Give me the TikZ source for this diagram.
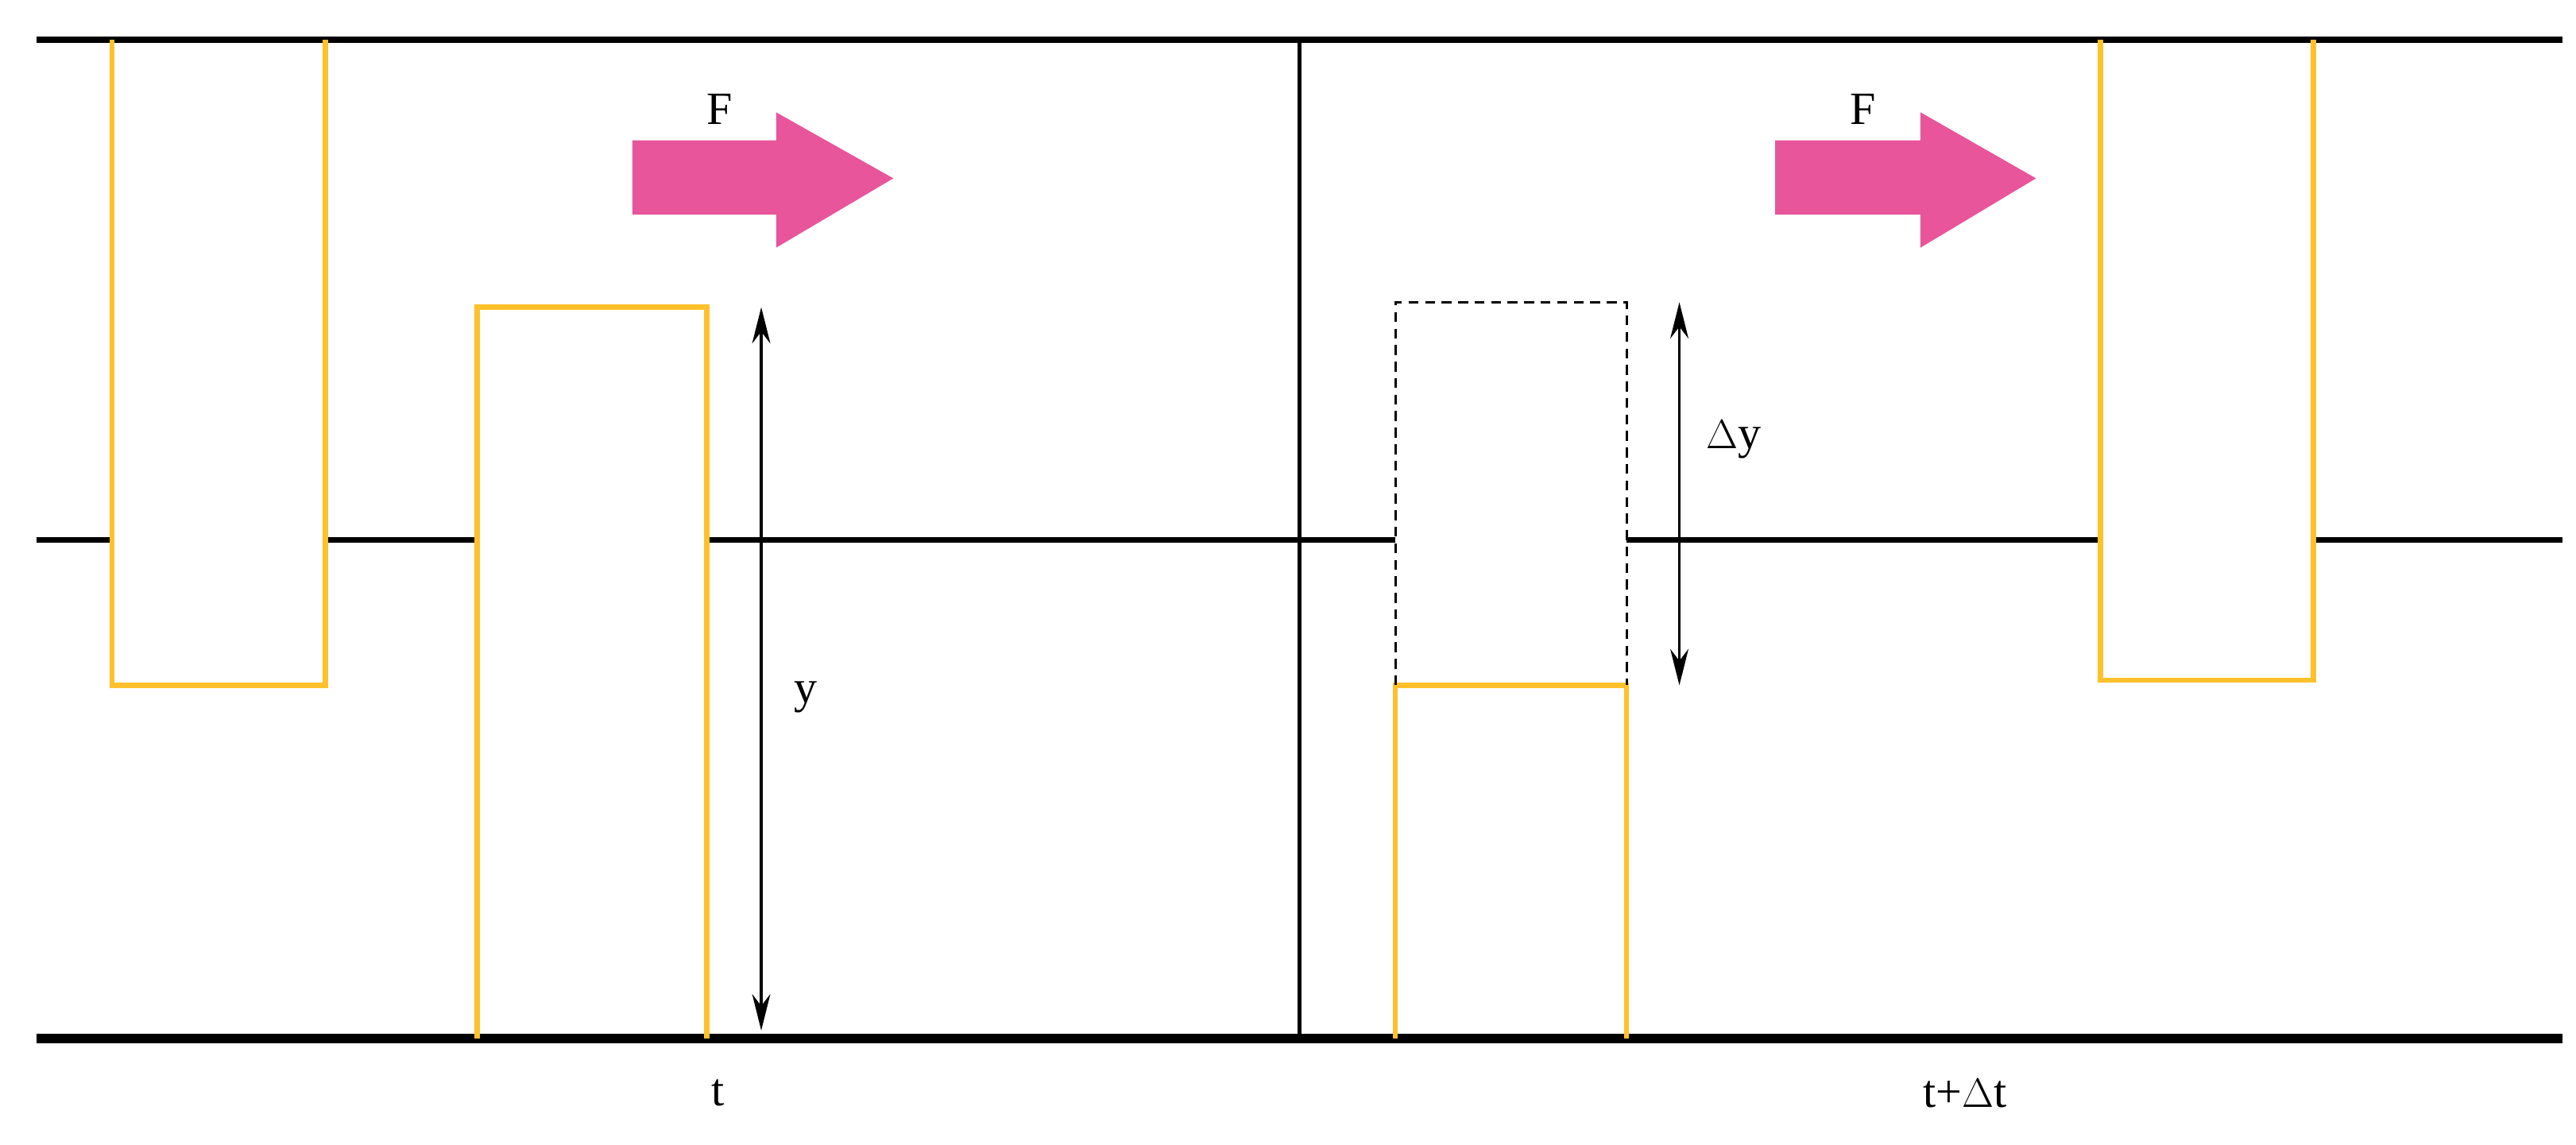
\documentclass[tikz,border=0pt]{standalone}
\usepackage{fontspec}
\setmainfont{Liberation Serif}
\usetikzlibrary{arrows.meta}
\definecolor{gold}{HTML}{FFC12B}
\definecolor{pinkf}{HTML}{E8559A}
\begin{document}
\begin{tikzpicture}[x=1pt,y=-1pt,
  blk/.style={line width=3.5pt,black},
  yel/.style={line width=3pt,gold},
  dim/.style={line width=1.6pt,{Stealth[length=22pt,width=11pt]}-{Stealth[length=22pt,width=11pt]}},
  lab/.style={font=\fontsize{28}{32}\selectfont,inner sep=0pt},
  force/.style={fill=pinkf,draw=none}]
\useasboundingbox (0,0) rectangle (1560,693);
% black lines
\draw[blk] (22,24) -- (1552,24);
\draw[line width=5.5pt] (22,629) -- (1552,629);
\draw[blk] (22,327) -- (68,327);
\draw[blk] (197,327) -- (289,327);
\draw[blk] (428,327) -- (845,327);
\draw[blk] (985,327) -- (1272,327);
\draw[blk] (1401,327) -- (1552,327);
\draw[line width=2.8pt] (787,24) -- (787,629);
% yellow shapes
\draw[yel] (68,24) -- (68,415) -- (197,415) -- (197,24);
\draw[yel] (289,629) -- (289,186) -- (428,186) -- (428,629);
\draw[yel] (845,629) -- (845,415) -- (985,415) -- (985,629);
\draw[yel] (1272,24) -- (1272,412) -- (1401,412) -- (1401,24);
\draw[line width=1.5pt,dash pattern=on 6pt off 4pt] (845,415) -- (845,183) -- (985,183) -- (985,415);
% dimension arrows
\coordinate (ya) at (461,186); \coordinate (yb) at (461,624);
\draw[dim] (ya) -- (yb);
\node[lab] (y) at (488,422) {y};
\coordinate (dya) at (1017,183); \coordinate (dyb) at (1017,415);
\draw[dim] (dya) -- (dyb);
\node[lab] (dy) at (1050,266) {$\Delta$y};
% force arrows
\fill[force] (383,85) -- (470,85) -- (470,68) -- (541,108) -- (470,150) -- (470,130) -- (383,130) -- cycle;
\fill[force] (1075,85) -- (1163,85) -- (1163,68) -- (1233,108) -- (1163,150) -- (1163,130) -- (1075,130) -- cycle;
\node[lab] (F1) at (436,66) {F};
\node[lab] (F2) at (1128,66) {F};
\node[lab] (t1) at (435,662) {t};
\node[lab] (t2) at (1190,662) {t+$\Delta$t};
\end{tikzpicture}
\end{document}
